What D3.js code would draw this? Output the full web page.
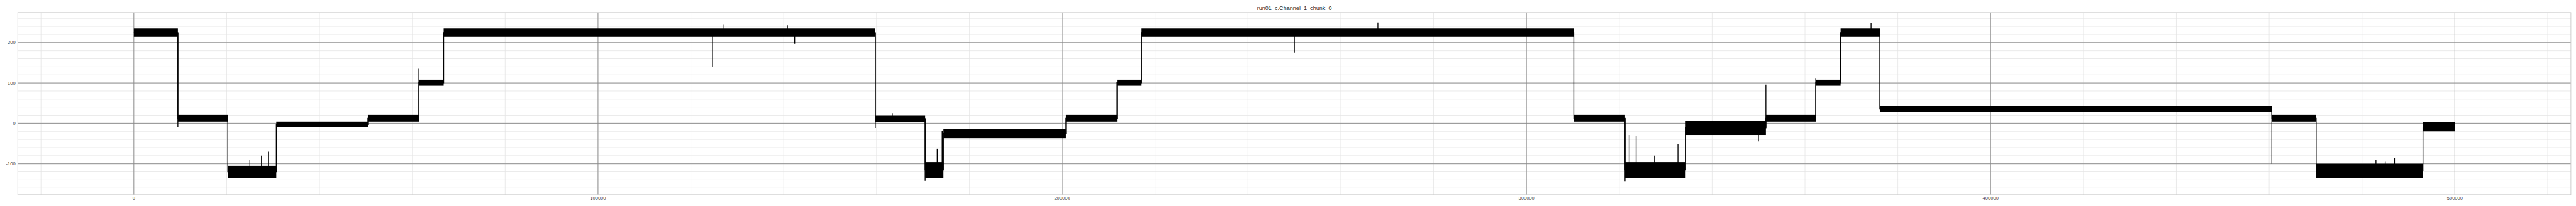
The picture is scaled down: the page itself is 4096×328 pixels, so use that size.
<!DOCTYPE html>
<html><head><meta charset="utf-8">
<script src="https://cdn.jsdelivr.net/npm/d3@7"></script>
<style>body{margin:0;background:#fff;overflow:hidden}</style>
</head><body>
<svg id="c" width="4096" height="328" viewBox="0 0 5400 432"></svg>
<script>
const title = "run01_c.Channel_1_chunk_0";
const xTicks = [0, 100000, 200000, 300000, 400000, 500000];
const yTicks = [-100, 0, 100, 200];
// step segments of the trace (sample index range, noise band low/high)
const segStart = [0, 9490, 20240, 30690, 50420, 61410, 66750, 159740, 170480, 174420, 200800, 211800, 217100, 310200, 321240, 334290, 351580, 362320, 367670, 376120, 460570, 470120, 493130];
const segEnd   = [9490, 20240, 30690, 50420, 61410, 66750, 159740, 170480, 174420, 200800, 211800, 217100, 310200, 321240, 334290, 351580, 362320, 367670, 376120, 460570, 470120, 493130, 500000];
const segLo    = [214, 4, -135, -10, 4, 93, 214, 3, -135, -37, 4, 93, 214, 4, -135, -29, 4, 93, 214, 28, 4, -135, -20];
const segHi    = [235, 21, -105, 4, 21, 108, 235, 20, -96, -14, 21, 108, 235, 21, -96, 6, 21, 108, 235, 43, 21, -100, 3];
// isolated spikes (sample index, value)
const spikeX = [9490, 25000, 27500, 29000, 61410, 124680, 127150, 140800, 142370, 159740, 163400, 170480, 173080, 173950, 174200, 250000, 268000, 321240, 322140, 323630, 327600, 332640, 349970, 351580, 362320, 374240, 460570, 483000, 485000, 487000];
const spikeV = [-10, -90, -80, -70, 135, 139, 244, 243, 197, -12, 25, -142, -63, -18, -18, 175, 250, -143, -29, -32, -80, -52, -45, 96, 112, 249, -100, -90, -95, -85];

const svg = d3.select("#c");
const x = d3.scaleLinear().domain([-25000, 525000]).range([37.3, 5389.3]);
const y = d3.scaleLinear().domain([-176.5, 274.5]).range([408.3, 26]);
const x0 = x.range()[0], x1 = x.range()[1], y0 = y.range()[1], y1 = y.range()[0];

// minor grid
const g = svg.append("g");
g.selectAll(".mx").data(d3.range(-20000, 520001, 20000)).join("line")
  .attr("x1", d => x(d)).attr("x2", d => x(d)).attr("y1", y0).attr("y2", y1)
  .attr("stroke", "#e3e3e3").attr("stroke-width", 1);
g.selectAll(".my").data(d3.range(-160, 261, 20)).join("line")
  .attr("y1", d => y(d)).attr("y2", d => y(d)).attr("x1", x0).attr("x2", x1)
  .attr("stroke", "#e3e3e3").attr("stroke-width", 1);
// major grid
g.selectAll(".Mx").data(xTicks).join("line")
  .attr("x1", d => x(d)).attr("x2", d => x(d)).attr("y1", y0).attr("y2", y1)
  .attr("stroke", "#888").attr("stroke-width", 1.2);
g.selectAll(".My").data(yTicks).join("line")
  .attr("y1", d => y(d)).attr("y2", d => y(d)).attr("x1", x0).attr("x2", x1)
  .attr("stroke", "#888").attr("stroke-width", 1.2);
// border
svg.append("rect").attr("x", x0).attr("y", y0).attr("width", x1 - x0).attr("height", y1 - y0)
  .attr("fill", "none").attr("stroke", "#c8c8c8").attr("stroke-width", 1.2);

// axes labels
const font = "'Liberation Sans', Arial, sans-serif";
svg.append("g").selectAll("text").data(xTicks).join("text")
  .attr("x", d => x(d)).attr("y", 418.5).attr("text-anchor", "middle")
  .attr("font-family", font).attr("font-size", 10).attr("fill", "#444").text(d => d);
svg.append("g").selectAll("text").data(yTicks).join("text")
  .attr("x", 32.5).attr("y", d => y(d)).attr("dy", "0.35em").attr("text-anchor", "end")
  .attr("font-family", font).attr("font-size", 10).attr("fill", "#444").text(d => d);
svg.append("text").attr("x", (x0 + x1) / 2).attr("y", 20.5).attr("text-anchor", "middle")
  .attr("font-family", font).attr("font-size", 12).attr("fill", "#333").text(title);

// trace
const segs = segStart.map((s, i) => ({s, e: segEnd[i], lo: segLo[i], hi: segHi[i], c: (segLo[i] + segHi[i]) / 2}));
const tr = svg.append("g");
tr.selectAll("rect").data(segs).join("rect")
  .attr("x", d => x(d.s)).attr("width", d => x(d.e) - x(d.s))
  .attr("y", d => y(d.hi)).attr("height", d => y(d.lo) - y(d.hi)).attr("fill", "#000");
const pts = [];
segs.forEach(d => { pts.push([d.s, d.c]); pts.push([d.e, d.c]); });
tr.append("path").attr("d", d3.line().x(p => x(p[0])).y(p => y(p[1]))(pts))
  .attr("fill", "none").attr("stroke", "#000").attr("stroke-width", 1.8);
const spikes = spikeX.map((sx, i) => {
  const sg = segs.find(d => sx >= d.s && sx <= d.e);
  return {x: sx, v: spikeV[i], c: sg ? sg.c : spikeV[i]};
});
tr.selectAll("line").data(spikes).join("line")
  .attr("x1", d => x(d.x)).attr("x2", d => x(d.x)).attr("y1", d => y(d.c)).attr("y2", d => y(d.v))
  .attr("stroke", "#000").attr("stroke-width", 1.8);
</script>
</body></html>
